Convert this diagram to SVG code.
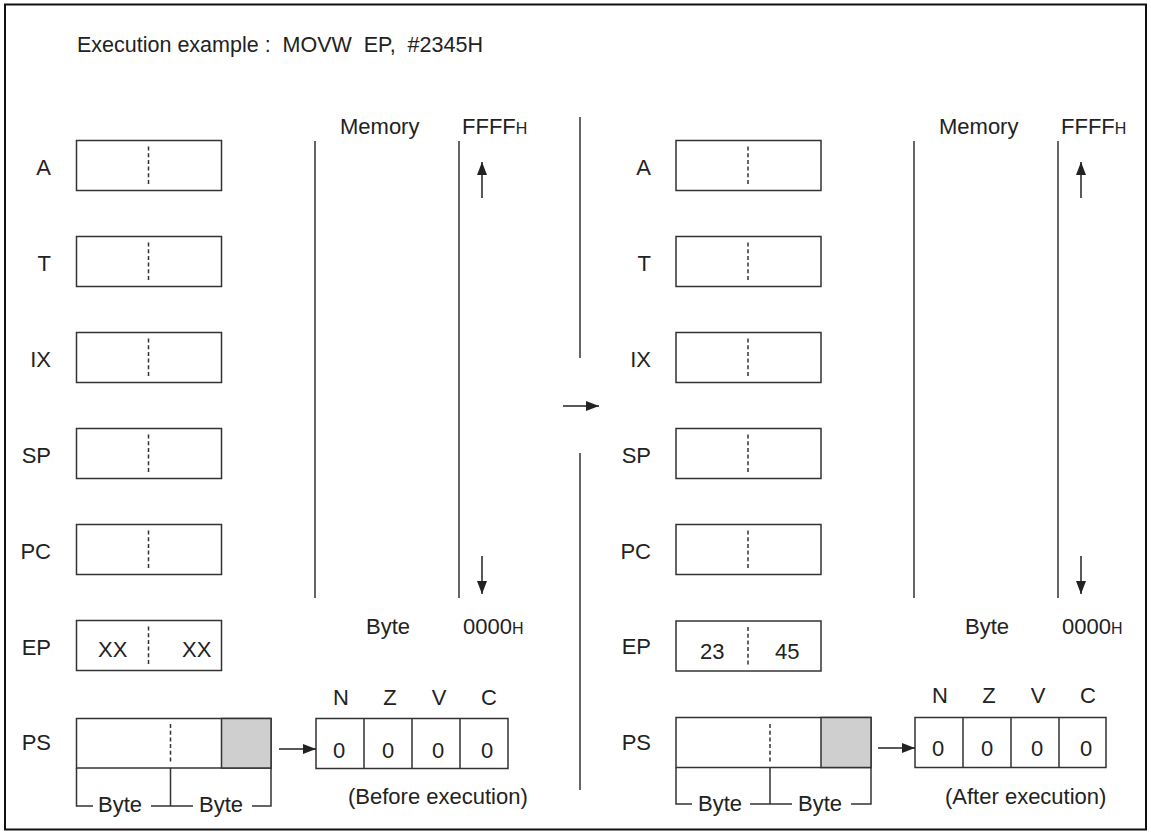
<svg xmlns="http://www.w3.org/2000/svg" width="1151" height="834" viewBox="0 0 1151 834">
<style>
text{font-family:"Liberation Sans",Arial,sans-serif;font-size:22px;fill:#222}
.t{font-size:21.5px}
.h{font-size:16px}
.lab{text-anchor:end}
.mid{text-anchor:middle}
.box{fill:#fff;stroke:#333;stroke-width:1.5}
.grey{fill:#cfcfcf;stroke:#333;stroke-width:1.5}
.dash{stroke:#333;stroke-width:1.5;stroke-dasharray:4 2.7;fill:none}
.ln{stroke:#333;stroke-width:1.5;fill:none}
.arr{stroke:#222;stroke-width:1.5;fill:none;marker-end:url(#ah)}
</style>
<defs>
<marker id="ah" markerUnits="userSpaceOnUse" markerWidth="13" markerHeight="10" refX="13" refY="5" orient="auto">
<path d="M0,0 L13,5 L0,10 z" fill="#222"/>
</marker>
</defs>
<rect x="5" y="4.5" width="1141" height="825" fill="#fff" stroke="#111" stroke-width="2"/>
<text class="t" x="77" y="52" xml:space="preserve">Execution example :  MOVW  EP,  #2345H</text>

<!-- LEFT (before) -->
<g id="reg-A-before"><text class="lab" x="51" y="174.5">A</text><rect class="box" x="76.5" y="140.5" width="145" height="50"/><line class="dash" x1="148.5" y1="146.5" x2="148.5" y2="184.5"/></g>
<g id="reg-T-before"><text class="lab" x="51" y="270.5">T</text><rect class="box" x="76.5" y="236.5" width="145" height="50"/><line class="dash" x1="148.5" y1="242.5" x2="148.5" y2="280.5"/></g>
<g id="reg-IX-before"><text class="lab" x="51" y="366.5">IX</text><rect class="box" x="76.5" y="332.5" width="145" height="50"/><line class="dash" x1="148.5" y1="338.5" x2="148.5" y2="376.5"/></g>
<g id="reg-SP-before"><text class="lab" x="51" y="462.5">SP</text><rect class="box" x="76.5" y="428.5" width="145" height="50"/><line class="dash" x1="148.5" y1="434.5" x2="148.5" y2="472.5"/></g>
<g id="reg-PC-before"><text class="lab" x="51" y="558.5">PC</text><rect class="box" x="76.5" y="524.5" width="145" height="50"/><line class="dash" x1="148.5" y1="530.5" x2="148.5" y2="568.5"/></g>
<g id="reg-EP-before"><text class="lab" x="51" y="654.5">EP</text><rect class="box" x="76.5" y="620.5" width="145" height="50"/><line class="dash" x1="148.5" y1="626.5" x2="148.5" y2="664.5"/><text x="98" y="657">XX</text><text x="182" y="657">XX</text></g>
<g id="reg-PS-before"><text class="lab" x="51" y="750">PS</text><rect class="box" x="76.5" y="718.5" width="194.5" height="49.5"/><rect class="grey" x="221.5" y="718.5" width="49.5" height="49.5"/><line class="dash" x1="170.5" y1="724" x2="170.5" y2="762"/>
<path class="ln" d="M76.5,768 V806 H93 M151,806 H193 M170.5,768 V806 M252,806 H271 V768"/><text x="98" y="812">Byte</text><text x="199" y="812">Byte</text></g>
<g id="memory-before"><line class="ln" x1="315" y1="141" x2="315" y2="598"/><line class="ln" x1="459" y1="141" x2="459" y2="598"/>
<text x="340" y="134">Memory</text><text x="462" y="134">FFFF<tspan class="h">H</tspan></text>
<text x="366" y="634">Byte</text><text x="463" y="634">0000<tspan class="h">H</tspan></text></g>
<g id="flags-before"><rect class="box" x="316" y="718.5" width="192" height="50"/><path class="ln" d="M364,718.5 V768.5 M412,718.5 V768.5 M460,718.5 V768.5"/>
<text class="mid" x="341" y="705">N</text><text class="mid" x="390" y="705">Z</text><text class="mid" x="439" y="705">V</text><text class="mid" x="489" y="705">C</text>
<text class="mid" x="339" y="758">0</text><text class="mid" x="388" y="758">0</text><text class="mid" x="438" y="758">0</text><text class="mid" x="487" y="758">0</text>
<text x="348" y="804">(Before execution)</text></g>

<!-- CENTER -->
<g id="separator"><line class="ln" x1="580" y1="117" x2="580" y2="358"/><line class="ln" x1="580" y1="453" x2="580" y2="790"/></g>

<!-- RIGHT (after) -->
<g id="reg-A-after"><text class="lab" x="651" y="174.5">A</text><rect class="box" x="676" y="140.5" width="145" height="50"/><line class="dash" x1="748" y1="146.5" x2="748" y2="184.5"/></g>
<g id="reg-T-after"><text class="lab" x="651" y="270.5">T</text><rect class="box" x="676" y="236.5" width="145" height="50"/><line class="dash" x1="748" y1="242.5" x2="748" y2="280.5"/></g>
<g id="reg-IX-after"><text class="lab" x="651" y="366.5">IX</text><rect class="box" x="676" y="332.5" width="145" height="50"/><line class="dash" x1="748" y1="338.5" x2="748" y2="376.5"/></g>
<g id="reg-SP-after"><text class="lab" x="651" y="462.5">SP</text><rect class="box" x="676" y="428.5" width="145" height="50"/><line class="dash" x1="748" y1="434.5" x2="748" y2="472.5"/></g>
<g id="reg-PC-after"><text class="lab" x="651" y="558.5">PC</text><rect class="box" x="676" y="524.5" width="145" height="50"/><line class="dash" x1="748" y1="530.5" x2="748" y2="568.5"/></g>
<g id="reg-EP-after"><text class="lab" x="651" y="654">EP</text><rect class="box" x="676" y="621" width="145" height="50"/><line class="dash" x1="748" y1="627" x2="748" y2="665"/><text x="700" y="659">23</text><text x="775" y="659">45</text></g>
<g id="reg-PS-after"><text class="lab" x="651" y="750">PS</text><rect class="box" x="676" y="717.5" width="195" height="50"/><rect class="grey" x="821" y="717.5" width="50" height="50"/><line class="dash" x1="770" y1="724" x2="770" y2="762"/>
<path class="ln" d="M676,767.5 V804 H692 M750,804 H792 M770,767.5 V804 M851,804 H871 V767.5"/><text x="698" y="811">Byte</text><text x="798" y="811">Byte</text></g>
<g id="memory-after"><line class="ln" x1="914" y1="141" x2="914" y2="598"/><line class="ln" x1="1058" y1="141" x2="1058" y2="598"/>
<text x="939" y="134">Memory</text><text x="1061" y="134">FFFF<tspan class="h">H</tspan></text>
<text x="965" y="634">Byte</text><text x="1062" y="634">0000<tspan class="h">H</tspan></text></g>
<g id="flags-after"><rect class="box" x="915" y="717.5" width="191" height="50"/><path class="ln" d="M963,717.5 V767.5 M1011,717.5 V767.5 M1059,717.5 V767.5"/>
<text class="mid" x="940" y="703">N</text><text class="mid" x="989" y="703">Z</text><text class="mid" x="1038" y="703">V</text><text class="mid" x="1088" y="703">C</text>
<text class="mid" x="938" y="756">0</text><text class="mid" x="987" y="756">0</text><text class="mid" x="1037" y="756">0</text><text class="mid" x="1086" y="756">0</text>
<text x="945" y="804">(After execution)</text></g>

<g id="connectors">
<line class="arr" x1="482" y1="198" x2="482" y2="162"/>
<line class="arr" x1="482" y1="556" x2="482" y2="594"/>
<line class="arr" x1="1081" y1="198" x2="1081" y2="162"/>
<line class="arr" x1="1081" y1="556" x2="1081" y2="594"/>
<line class="arr" x1="279" y1="749" x2="316" y2="749"/>
<line class="arr" x1="878" y1="748" x2="915" y2="748"/>
<line class="arr" x1="563" y1="406" x2="599" y2="406"/>
</g>
</svg>
